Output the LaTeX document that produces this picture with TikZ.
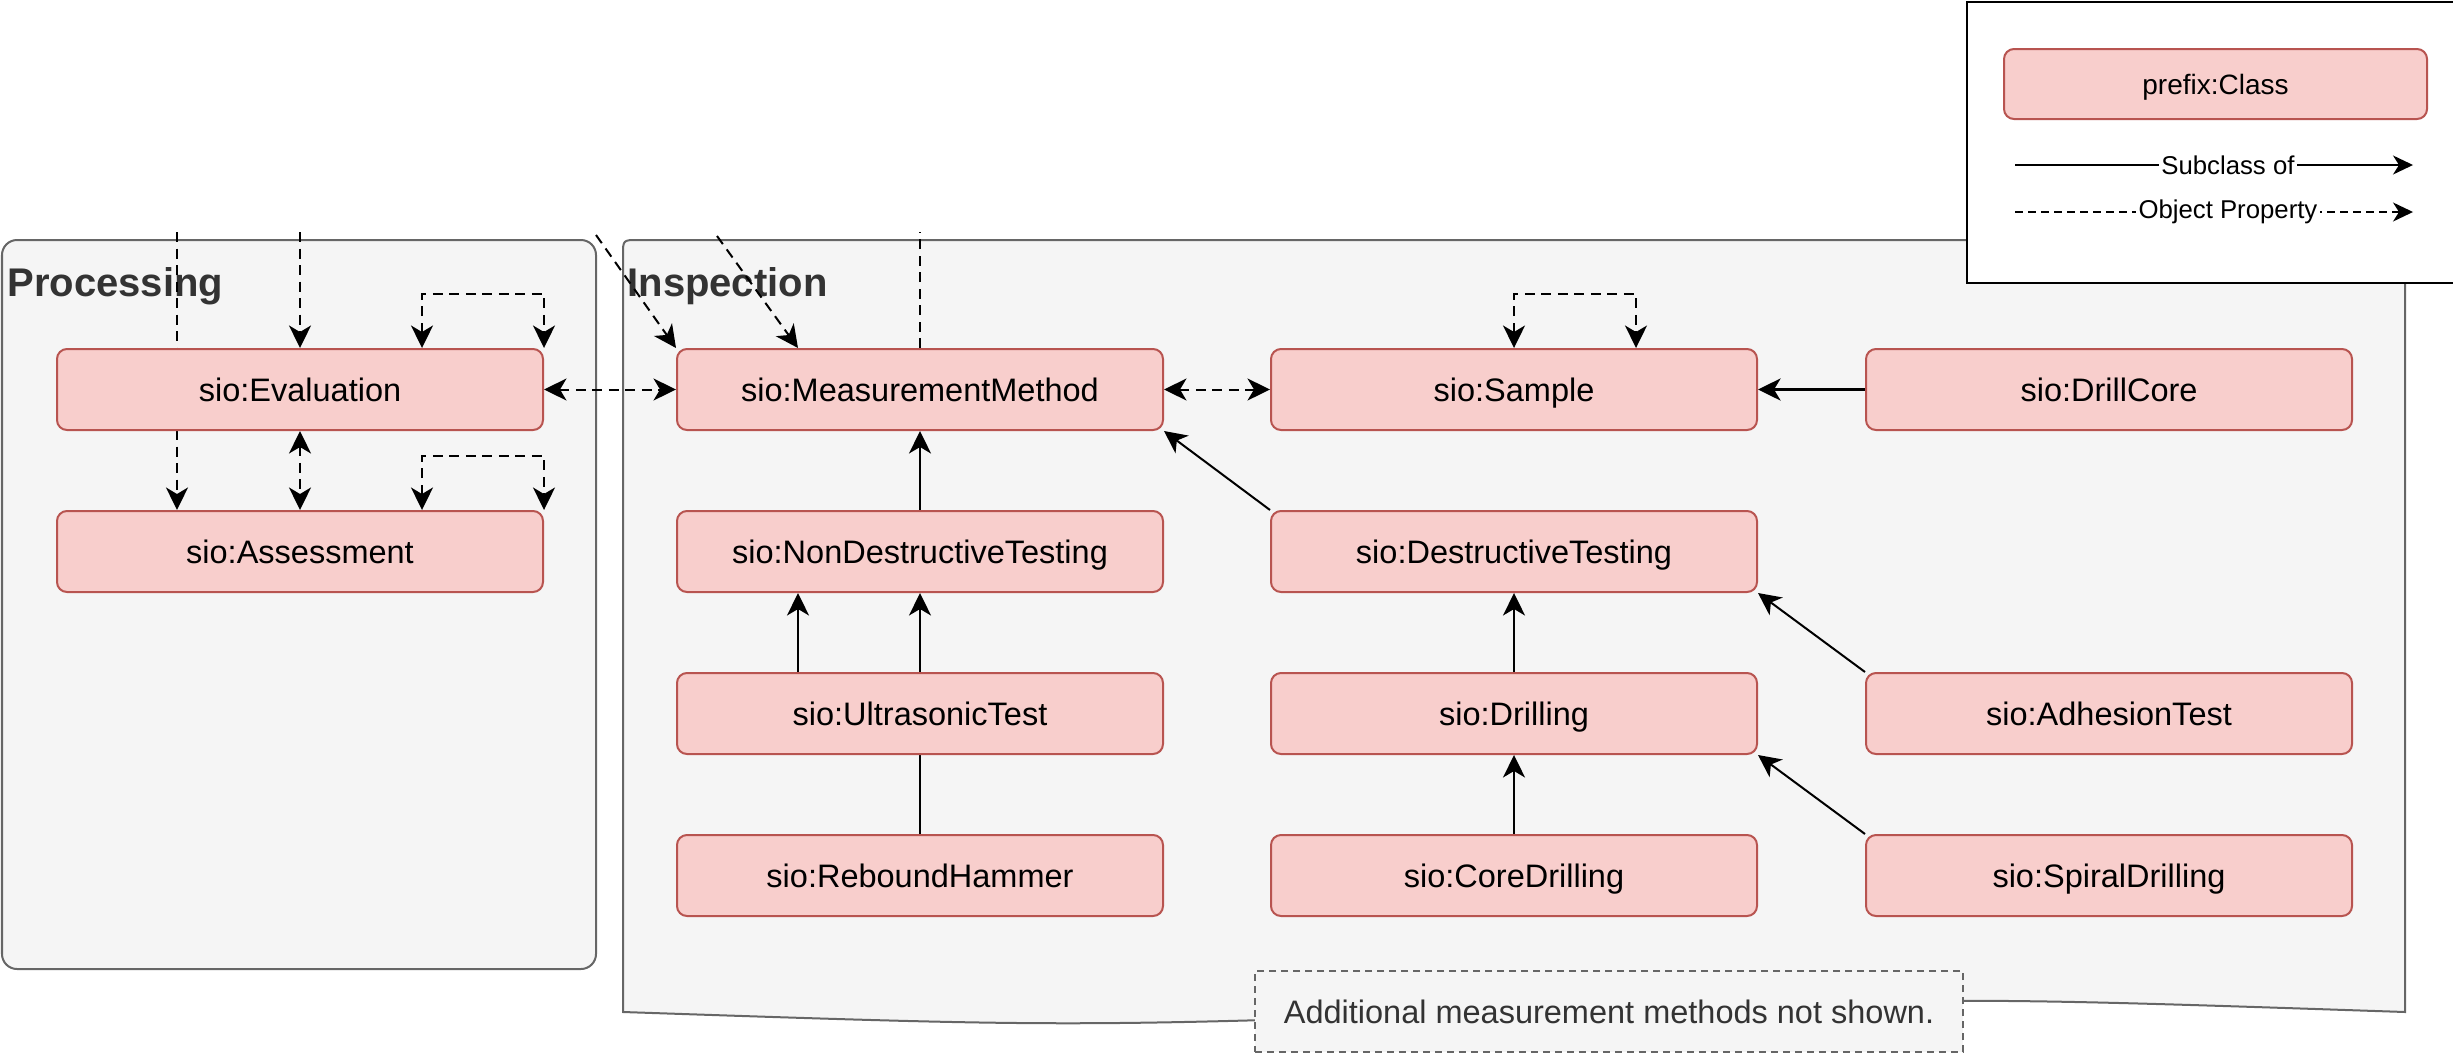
\documentclass[tikz,border=0pt]{standalone}
\usepackage{fontspec}
\setmainfont{Liberation Sans}
\usetikzlibrary{arrows.meta,calc}
\definecolor{clsfill}{HTML}{F8CECC}
\definecolor{clsborder}{HTML}{B85450}
\definecolor{contfill}{HTML}{F5F5F5}
\definecolor{contborder}{HTML}{666666}
\definecolor{titlegray}{HTML}{333333}
\pgfdeclarelayer{back}
\pgfdeclarelayer{mid}
\pgfsetlayers{back,mid,main}
\begin{document}
\begin{tikzpicture}[x=0.4pt,y=-0.4pt,
  >={Stealth[length=9pt,width=8.8pt,inset=2.6pt]},
  cls/.style={draw=clsborder,fill=clsfill,line width=0.8pt,rounded corners=4pt,
    minimum width=194.4pt,minimum height=32.4pt,inner sep=0pt,anchor=north west,
    text height=9.3pt,text depth=0pt,
    font=\fontsize{13pt}{15pt}\selectfont},
  subedge/.style={draw=black,line width=0.8pt,->},
  opedge/.style={draw=black,line width=0.8pt,dash pattern=on 4pt off 2.6pt},
  cont/.style={draw=contborder,fill=contfill,line width=0.8pt},
  ctitle/.style={font=\fontsize{16pt}{19pt}\selectfont\bfseries,text=titlegray,
    anchor=base west,inner sep=0pt},
  legtip/.style={-{Stealth[length=8pt,width=7.6pt,inset=2.4pt]}},
  leglabel/.style={fill=white,inner sep=1pt,font=\fontsize{10.3pt}{12pt}\selectfont}
]
\useasboundingbox (0,0) rectangle (2453,1054);

% containers
\begin{pgfonlayer}{back}
\draw[cont,rounded corners=6pt] (2,240) rectangle (596,969);
\draw[cont] (623,1012) -- (623,255) .. controls (623,240) .. (638,240)
  -- (2390,240) .. controls (2405,240) .. (2405,255) -- (2405,1012)
  .. controls (1960,997) .. (1514,1012) .. controls (1068,1027) .. (623,1012) -- cycle;
\node[ctitle] (ptitle) at (7,296) {Processing};
\node[ctitle] (ititle) at (627,296) {Inspection};
\end{pgfonlayer}

% class nodes
\node[cls] (eval) at (56,348) {sio:Evaluation};
\node[cls] (assess) at (56,510) {sio:Assessment};
\node[cls] (mm) at (676,348) {sio:MeasurementMethod};
\node[cls] (ndt) at (676,510) {sio:NonDestructiveTesting};
\node[cls] (ut) at (676,672) {sio:UltrasonicTest};
\node[cls] (rh) at (676,834) {sio:ReboundHammer};
\node[cls] (sample) at (1270,348) {sio:Sample};
\node[cls] (dt) at (1270,510) {sio:DestructiveTesting};
\node[cls] (drilling) at (1270,672) {sio:Drilling};
\node[cls] (coredrill) at (1270,834) {sio:CoreDrilling};
\node[cls] (drillcore) at (1865,348) {sio:DrillCore};
\node[cls] (adh) at (1865,672) {sio:AdhesionTest};
\node[cls] (spiral) at (1865,834) {sio:SpiralDrilling};

% note
\node[draw=contborder,fill=contfill,line width=0.8pt,dash pattern=on 2.8pt off 2pt,
  minimum width=283.2pt,minimum height=32.4pt,anchor=north west,inner sep=0pt,
  text height=9.3pt,text depth=0pt,
  text=titlegray,font=\fontsize{13pt}{15pt}\selectfont] (note) at (1254,970)
  {Additional measurement methods not shown.};

% edges
\begin{pgfonlayer}{mid}
\coordinate (pa) at (177,232);
\coordinate (pb) at (299,232);
\coordinate (ia) at (596,235);
\coordinate (ib) at (717,236);
\coordinate (ic) at (920,232);
\coordinate (evq) at ($(eval.north west)!0.75!(eval.north east)$);
\coordinate (asq) at ($(assess.north west)!0.75!(assess.north east)$);
\coordinate (mmq) at ($(mm.north west)!0.25!(mm.north east)$);
\coordinate (saq) at ($(sample.north west)!0.75!(sample.north east)$);
\coordinate (utq) at ($(ut.north west)!0.25!(ut.north east)$);

\draw[opedge,->] (pa) -- (pa |- assess.north);
\draw[opedge,->] (eval.north |- pb) -- (eval.north);
\draw[opedge,<->] (evq) -- ++(0,-54) -| (eval.north east);
\draw[opedge,<->] (eval.east) -- (mm.west);
\draw[opedge,<->] (eval.south) -- (assess.north);
\draw[opedge,<->] (asq) -- ++(0,-54) -| (assess.north east);
\draw[opedge,->] (ia) -- (mm.north west);
\draw[opedge,->] (ib) -- (mmq);
\draw[opedge] (mm.north) -- (mm.north |- ic);
\draw[opedge,<->] (mm.east) -- (sample.west);
\draw[opedge,<->] (sample.north) -- ++(0,-54) -| (saq);

\draw[subedge,line width=1.3pt] (drillcore.west) -- (sample.east);
\draw[subedge] (ndt.north) -- (mm.south);
\draw[subedge] (dt.north west) -- (mm.south east);
\draw[subedge] (utq) -- (utq |- ndt.south);
\draw[subedge] (rh.north) -- (ndt.south);
\draw[subedge] (drilling.north) -- (dt.south);
\draw[subedge] (coredrill.north) -- (drilling.south);
\draw[subedge] (adh.north west) -- (dt.south east);
\draw[subedge] (spiral.north west) -- (drilling.south east);
\end{pgfonlayer}

% legend
\draw[black,line width=0.8pt,fill=white] (1967,2) rectangle (2520,283);
\node[cls,minimum width=169.2pt,minimum height=28pt,text height=8pt,
  font=\fontsize{11.2pt}{13pt}\selectfont] (legcls) at (2003,48) {prefix:Class};
\coordinate (ls1) at (2015,165);
\coordinate (le1) at (2413,165);
\coordinate (ls2) at (2015,212);
\coordinate (le2) at (2413,212);
\draw[line width=0.7pt,legtip] (ls1) -- node[pos=0.535,leglabel] {Subclass of} (le1);
\draw[line width=0.7pt,legtip,dash pattern=on 3.2pt off 2pt] (ls2) -- node[pos=0.535,leglabel] {Object Property} (le2);
\end{tikzpicture}
\end{document}
